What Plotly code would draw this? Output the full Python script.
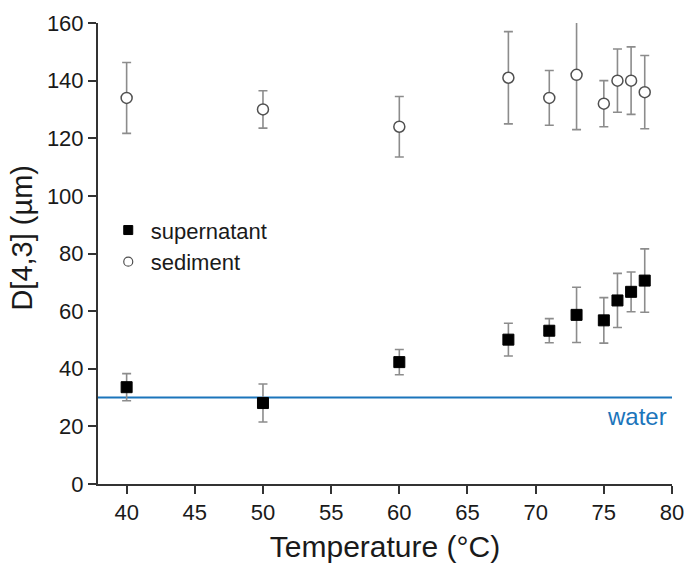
import plotly.graph_objects as go

temps = [40, 50, 60, 68, 71, 73, 75, 76, 77, 78]
supernatant = [33.6, 28.1, 42.3, 50.1, 53.2, 58.7, 56.8, 63.7, 66.7, 70.6]
supernatant_err = [4.7, 6.6, 4.4, 5.7, 4.2, 9.6, 7.9, 9.4, 6.9, 11.0]
sediment = [134.0, 130.0, 124.0, 141.0, 134.0, 142.0, 132.0, 140.0, 140.0, 136.0]
sediment_err = [12.3, 6.5, 10.5, 16.0, 9.5, 19.0, 8.0, 11.0, 11.7, 12.7]
water_level = 30
x_range = [37.9, 80]
y_range = [0, 160]
x_ticks = [40, 45, 50, 55, 60, 65, 70, 75, 80]
y_ticks = [0, 20, 40, 60, 80, 100, 120, 140, 160]

FONT = "Liberation Sans, Arial, sans-serif"
BLUE = "#1b75bb"
TXT = "#1a1a1a"
ERR = "#8c8c8c"

fig = go.Figure()
fig.add_trace(go.Scatter(
    x=x_range, y=[water_level, water_level], mode="lines",
    line=dict(color=BLUE, width=2), showlegend=False, hoverinfo="skip"))
fig.add_trace(go.Scatter(
    x=temps, y=supernatant, mode="markers", name="supernatant", showlegend=False,
    marker=dict(symbol="square", size=11, color="black", line=dict(color="black", width=1)),
    error_y=dict(type="data", array=supernatant_err, color=ERR, thickness=1.6, width=4.5)))
fig.add_trace(go.Scatter(
    x=temps, y=sediment, mode="markers", name="sediment", showlegend=False,
    marker=dict(symbol="circle", size=11, color="white", line=dict(color="#505050", width=1.5)),
    error_y=dict(type="data", array=sediment_err, color=ERR, thickness=1.6, width=4.5)))
# legend entries
fig.add_trace(go.Scatter(
    x=[None], y=[None], mode="markers", name="supernatant",
    marker=dict(symbol="square", size=9, color="black", line=dict(color="black", width=1))))
fig.add_trace(go.Scatter(
    x=[None], y=[None], mode="markers", name="sediment",
    marker=dict(symbol="circle", size=9, color="white", line=dict(color="#505050", width=1.2))))

fig.add_annotation(x=x_range[1], y=water_level, xref="x", yref="y", text="water",
                   showarrow=False, xanchor="right", yanchor="top", xshift=-3, yshift=-3,
                   font=dict(family=FONT, size=24, color=BLUE))
fig.add_annotation(x=-0.132, y=0.535, xref="paper", yref="paper", text="D[4,3] (µm)",
                   textangle=-90, showarrow=False, xanchor="center", yanchor="middle",
                   font=dict(family=FONT, size=29, color=TXT))

fig.update_layout(
    width=686, height=570,
    margin=dict(l=98, r=14, t=23, b=86),
    paper_bgcolor="white", plot_bgcolor="white",
    font=dict(family=FONT, color=TXT),
    legend=dict(x=0.0135, y=0.596, xanchor="left", yanchor="top",
                font=dict(family=FONT, size=22, color=TXT), itemwidth=35,
                bgcolor="rgba(0,0,0,0)", itemsizing="trace", tracegroupgap=0),
    xaxis=dict(range=x_range, tickvals=x_ticks, showgrid=False, zeroline=False,
               showline=True, linecolor="#333333", linewidth=2, automargin=False,
               ticks="outside", ticklen=8, tickwidth=2, tickcolor="#333333",
               tickfont=dict(family=FONT, size=22, color=TXT),
               title=dict(text="Temperature (°C)", font=dict(family=FONT, size=30, color=TXT), standoff=12)),
    yaxis=dict(range=y_range, tickvals=y_ticks, showgrid=False, zeroline=False,
               showline=True, linecolor="#333333", linewidth=2, automargin=False,
               ticks="outside", ticklen=8, tickwidth=2, tickcolor="#333333",
               tickfont=dict(family=FONT, size=22, color=TXT)),
)

fig.write_html("out.html")
